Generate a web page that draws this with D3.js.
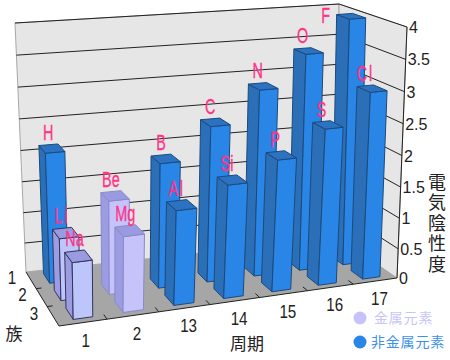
<!DOCTYPE html>
<html>
<head>
<meta charset="utf-8">
<script src="https://cdn.jsdelivr.net/npm/d3@7"></script>
<style>
html, body { margin: 0; padding: 0; background: #fff; }
svg { display: block; }
</style>
</head>
<body>
<svg id="chart" width="450" height="360"></svg>
<script>
"use strict";

const periods = ["1", "2", "13", "14", "15", "16", "17"];
const groups = ["1", "2", "3"];
const valueTicks = [0, 0.5, 1, 1.5, 2, 2.5, 3, 3.5, 4];

const elements = ["H", "Li", "Be", "B", "C", "N", "O", "F", "Na", "Mg", "Al", "Si", "P", "S", "Cl"];
const elementPeriods = ["1", "1", "2", "13", "14", "15", "16", "17", "1", "2", "13", "14", "15", "16", "17"];
const elementGroups = ["1", "2", "2", "2", "2", "2", "2", "2", "3", "3", "3", "3", "3", "3", "3"];
const electronegativity = [2.1, 1.0, 1.5, 2.0, 2.5, 3.0, 3.5, 4.0, 0.9, 1.2, 1.5, 1.8, 2.1, 2.5, 3.0];
const elementKinds = ["non", "metal", "metal", "non", "non", "non", "non", "non", "metal", "metal", "non", "non", "non", "non", "non"];

const colors = {
    non: { front: "#2a86e6", side: "#2a6fb8", top: "#2b72c2", stroke: "#1c4a7c" },
    metal: { front: "#c6c2fa", side: "#9c9ce2", top: "#9a9ae0", stroke: "#8a8acb" },
    dark: { front: "#bcc6fa", side: "#9c9ce2", top: "#9a9ae0", stroke: "#34345c" }
};

// corners of the room on screen, floor and top plane (back-left, back-right, front-right, front-left)
const floorQuad = [[26, 272], [339, 238], [397, 278], [59, 326]];
const topQuad = [[15, 23], [339, 4], [407, 27], [52, 58]];

function squareToQuad(q) {
    const [[x0, y0], [x1, y1], [x2, y2], [x3, y3]] = q;
    const dx1 = x1 - x2, dx2 = x3 - x2, dx3 = x0 - x1 + x2 - x3;
    const dy1 = y1 - y2, dy2 = y3 - y2, dy3 = y0 - y1 + y2 - y3;
    const den = dx1 * dy2 - dx2 * dy1;
    const g = (dx3 * dy2 - dx2 * dy3) / den;
    const h = (dx1 * dy3 - dx3 * dy1) / den;
    const a = x1 - x0 + g * x1, b = x3 - x0 + h * x3;
    const d = y1 - y0 + g * y1, e = y3 - y0 + h * y3;
    return (u, v) => {
        const w = g * u + h * v + 1;
        return [(a * u + b * v + x0) / w, (d * u + e * v + y0) / w];
    };
}

const floorMap = squareToQuad(floorQuad);
const topMap = squareToQuad(topQuad);

const xBand = d3.scaleBand().domain(periods).range([0.012, 1]).paddingInner(0.6).paddingOuter(0.3);
const xTick = d3.scaleBand().domain(periods).range([0, 1]);
const zBand = d3.scaleBand().domain(groups).range([0, 1]).paddingInner(0.42).paddingOuter(0.21);
const zTick = d3.scaleBand().domain(groups).range([0, 1]);
// slight foreshortening of the height, the grid steps get wider toward the top
const yScale = d3.scalePow().exponent(1.035).domain([0, 4]).range([0, 1]);
// the corner homography overdoes the foreshortening across, this pulls it back
const uWarp = d3.scalePow().exponent(1.1).domain([0, 1]).range([0, 1]);

// u across, v toward the viewer, value is the height
function project(u, v, value) {
    const p0 = floorMap(uWarp(u), v);
    const p1 = topMap(uWarp(u), v);
    const t = yScale(value);
    return [p0[0] + (p1[0] - p0[0]) * t, p0[1] + (p1[1] - p0[1]) * t];
}

const line = d3.line();
const closed = pts => line(pts) + "Z";

const svg = d3.select("#chart");
const sans = "'Liberation Sans', Arial, sans-serif";
const cjk = "'Noto Sans CJK JP', sans-serif";

// room
const room = svg.append("g");
room.append("path")
    .attr("d", closed([project(0, 0, 0), project(1, 0, 0), project(1, 0, 4), project(0, 0, 4)]))
    .attr("fill", "#e6e6e6").attr("stroke", "#a8a8a8").attr("stroke-width", 1);
room.append("path")
    .attr("d", closed([project(1, 0, 0), project(1, 1, 0), project(1, 1, 4), project(1, 0, 4)]))
    .attr("fill", "#e6e6e6").attr("stroke", "#a8a8a8").attr("stroke-width", 1);
room.append("path")
    .attr("d", closed([project(0, 0, 0), project(1, 0, 0), project(1, 1, 0), project(0, 1, 0)]))
    .attr("fill", "#a6a6a6");

// gridlines on both walls
room.selectAll("path.grid")
    .data(valueTicks.filter(d => d > 0))
    .join("path")
    .attr("class", "grid")
    .attr("d", d => line([project(0, 0, d), project(1, 0, d), project(1, 1, d)]))
    .attr("fill", "none").attr("stroke", "#222").attr("stroke-width", 1);

// axis lines
room.append("path")
    .attr("d", line([project(1, 1, 0), project(1, 1, 4)]))
    .attr("fill", "none").attr("stroke", "#222");
room.append("path")
    .attr("d", line([project(0, 0, 0), project(0, 1, 0), project(1, 1, 0)]))
    .attr("fill", "none").attr("stroke", "#222");

// ticks on the floor edges
room.selectAll("path.xtick")
    .data(periods.slice(1))
    .join("path")
    .attr("class", "xtick")
    .attr("d", d => line([project(xTick(d), 1, 0), project(xTick(d), 0.92, 0)]))
    .attr("stroke", "#222").attr("fill", "none");
room.selectAll("path.ztick")
    .data(groups.slice(1))
    .join("path")
    .attr("class", "ztick")
    .attr("d", d => line([project(0, zTick(d), 0), project(0.02, zTick(d), 0)]))
    .attr("stroke", "#222").attr("fill", "none");

// bars, back rows first and right to left inside a row
const bars = elements.map((name, i) => ({
    name,
    period: elementPeriods[i],
    group: elementGroups[i],
    value: electronegativity[i],
    style: name === "Li" || name === "Na" ? colors.dark : colors[elementKinds[i]]
})).sort((a, b) => d3.ascending(a.group, b.group) || d3.descending(periods.indexOf(a.period), periods.indexOf(b.period)));

const barG = svg.append("g").selectAll("g")
    .data(bars)
    .join("g")
    .attr("stroke-linejoin", "round");

function faces(d) {
    const u0 = xBand(d.period), u1 = u0 + xBand.bandwidth();
    const v0 = zBand(d.group), v1 = v0 + zBand.bandwidth();
    return {
        side: [project(u0, v0, 0), project(u0, v1, 0), project(u0, v1, d.value), project(u0, v0, d.value)],
        front: [project(u0, v1, 0), project(u1, v1, 0), project(u1, v1, d.value), project(u0, v1, d.value)],
        top: [project(u0, v0, d.value), project(u1, v0, d.value), project(u1, v1, d.value), project(u0, v1, d.value)]
    };
}

["side", "front", "top"].forEach(face => {
    barG.append("path")
        .attr("d", d => closed(faces(d)[face]))
        .attr("fill", d => d.style[face])
        .attr("stroke", d => d.style.stroke)
        .attr("stroke-width", 1);
});

// text squeezed to the tall narrow look of the original
function stretchedText(parent, rows, px, py, text, size, sx, sy) {
    return parent.append("g").selectAll("text")
        .data(rows)
        .join("text")
        .attr("transform", d => `translate(${px(d)},${py(d)}) scale(${sx},${sy})`)
        .attr("text-anchor", "middle")
        .attr("font-family", sans)
        .attr("font-size", size)
        .text(text);
}

// element labels, F has no room above the plot so it sits beside its bar
const labelAnchor = d => project(xBand(d.period) + xBand.bandwidth() * 0.5, zBand(d.group), d.value);
stretchedText(svg, bars,
    d => labelAnchor(d)[0] + (d.value >= 4 ? -19 : 0),
    d => labelAnchor(d)[1] + (d.value >= 4 ? 9 : -5),
    d => d.name, 20, 0.72, 1.15)
    .attr("letter-spacing", d => d.name === "Li" || d.name === "Cl" || d.name === "Al" ? 2.5 : 0)
    .attr("fill", "#ff3388")
    .attr("stroke", "#ff3388")
    .attr("stroke-width", 0.3);

// tick labels
svg.append("g").selectAll("text")
    .data(valueTicks)
    .join("text")
    .attr("x", d => project(1, 1, d)[0] + 2)
    .attr("y", d => project(1, 1, d)[1] + 6)
    .attr("font-family", sans).attr("font-size", 16).attr("fill", "#222")
    .text(d => d);

stretchedText(svg, periods,
    d => project(xTick(d) + xTick.bandwidth() / 2, 1, 0)[0] + 4,
    d => project(xTick(d) + xTick.bandwidth() / 2, 1, 0)[1] + 24,
    d => d, 19, 0.8, 1)
    .attr("fill", "#222");

stretchedText(svg, groups,
    d => project(0, zTick(d) + zTick.bandwidth() / 2, 0)[0] - 19,
    d => project(0, zTick(d) + zTick.bandwidth() / 2, 0)[1] + 4,
    d => d, 19, 0.8, 1)
    .attr("fill", "#222");

// axis titles
const axisTitle = (text, x, y) => svg.append("text")
    .attr("x", x).attr("y", y)
    .attr("text-anchor", "middle")
    .attr("font-family", cjk).attr("font-size", 17).attr("fill", "#222")
    .text(text);

axisTitle("族", 14, 340);
axisTitle("周期", 247, 350);
svg.append("text")
    .attr("x", 437).attr("y", 173)
    .attr("font-family", cjk).attr("font-size", 18).attr("fill", "#222")
    .attr("letter-spacing", 2.5)
    .style("writing-mode", "vertical-rl")
    .text("電気陰性度");

// legend
const legendLabels = ["金属元素", "非金属元素"];
const legendColors = ["#c8c2fa", "#2a86e6"];
const legendText = ["#c8c4fa", "#3a90ea"];
const legendY = d3.scalePoint().domain(legendLabels).range([318, 342]);

const legend = svg.append("g").selectAll("g").data(legendLabels).join("g");
legend.append("circle")
    .attr("cx", 360).attr("cy", d => legendY(d)).attr("r", 6.5)
    .attr("fill", (d, i) => legendColors[i]);
legend.append("text")
    .attr("x", (d, i) => i === 0 ? 374 : 371)
    .attr("y", d => legendY(d) + 5)
    .attr("font-family", cjk).attr("font-size", 14).attr("letter-spacing", 0.8)
    .attr("fill", (d, i) => legendText[i])
    .text(d => d);
</script>
</body>
</html>
